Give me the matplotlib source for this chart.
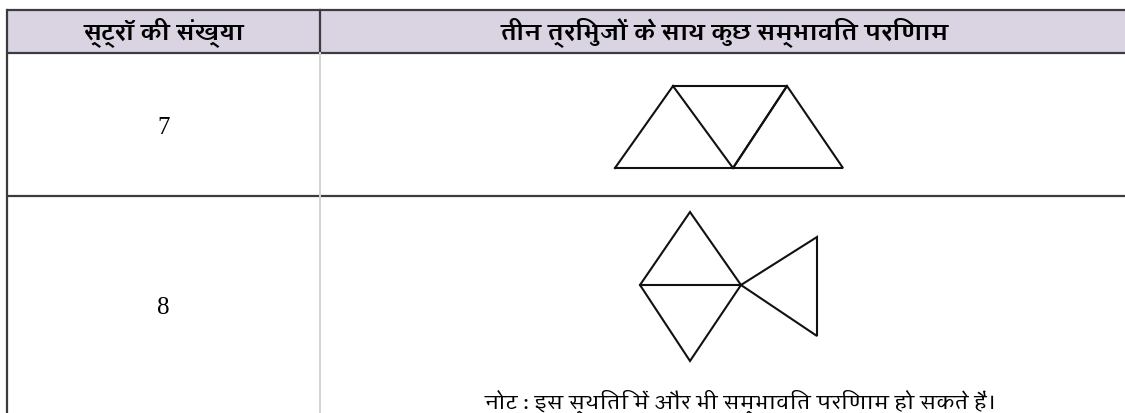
import matplotlib
matplotlib.use("Agg")
import matplotlib.pyplot as plt
from matplotlib import font_manager
from matplotlib.font_manager import FontProperties
from matplotlib.ft2font import FT2Font
from matplotlib.patches import Rectangle

# ---- table content ----
headers = ["स्ट्रॉ की संख्या", "तीन त्रिभुजों के साथ कुछ सम्भावित परिणाम"]
straw_counts = ["7", "8"]
note_text = "नोट : इस स्थिति में और भी सम्भावित परिणाम हो सकते हैं।"

# straw shapes, vertex paths (x right, y up) relative to the shape's lower-left
shape_7 = [
    [(0, 0), (58, 82), (118, 0), (0, 0)],
    [(58, 82), (172, 82), (118, 0)],
    [(118, 0), (228, 0), (172, 82), (118, 0)],
]
shape_8 = [
    [(0, 76), (101, 76), (50, 149), (0, 76), (50, 0), (101, 76)],
    [(101, 76), (177, 25), (177, 124), (101, 76)],
]

# ---- layout (pixels) ----
W, H = 1125, 413
LEFT, MID, RIGHT = 7, 320, 1140
ROW_Y = [10, 53, 196, 430]
HEADER_BG = "#d9d3e2"
DARK = "#3c3c3c"
SHAPE_ORIGIN = [(615, 168), (640, 361)]


def deva_fonts():
    """installed font files that have Devanagari glyphs"""
    found = []
    for f in font_manager.fontManager.ttflist:
        try:
            if FT2Font(f.fname).get_char_index(0x0915):
                found.append(f)
        except Exception:
            pass
    return found


def weight_num(f):
    if isinstance(f.weight, int):
        return f.weight
    return 700 if "bold" in str(f.weight) else 400


cands = deva_fonts()
if cands:
    head = max(cands, key=lambda f: (weight_num(f) >= 600, "Serif" not in f.name,
                                     -abs(weight_num(f) - 700)))
    body = min(cands, key=lambda f: (f.name != head.name, abs(weight_num(f) - 400),
                                     f.style != "normal"))
    fp_head = FontProperties(fname=head.fname)
    fp_body = FontProperties(fname=body.fname)
else:
    fp_head = FontProperties(family="DejaVu Sans", weight="bold")
    fp_body = FontProperties(family="DejaVu Sans")

fig = plt.figure(figsize=(W / 100, H / 100), dpi=100)
ax = fig.add_axes([0, 0, 1, 1])
ax.set_xlim(0, W)
ax.set_ylim(H, 0)
ax.axis("off")

# header band
ax.add_patch(Rectangle((LEFT, ROW_Y[0]), RIGHT - LEFT, ROW_Y[1] - ROW_Y[0],
                       facecolor=HEADER_BG, edgecolor="none"))

# horizontal rules
for y in ROW_Y[:3]:
    ax.plot([LEFT, RIGHT], [y, y], color=DARK, lw=1.6, solid_capstyle="butt")
# outer left border + header divider
ax.plot([LEFT, LEFT], [ROW_Y[0], ROW_Y[3]], color=DARK, lw=1.6)
ax.plot([MID, MID], [ROW_Y[0], ROW_Y[1]], color=DARK, lw=1.6)
ax.plot([MID, MID], [ROW_Y[1], ROW_Y[3]], color="#d4d4d4", lw=1.4)

# header text
col_centers = [(LEFT + MID) / 2, (MID + RIGHT) / 2 - 5]
for cx, h in zip(col_centers, headers):
    t = ax.text(cx, (ROW_Y[0] + ROW_Y[1]) / 2 + 1, h, ha="center", va="center",
                color="black", fontproperties=fp_head)
    t.set_fontsize(17)

# straw counts
count_y = [128, 308]
for cy, n in zip(count_y, straw_counts):
    ax.text(col_centers[0], cy, n, ha="center", va="center",
            fontsize=18, family="Liberation Serif", color="black")

# shapes
for shape, (ox, oy) in zip([shape_7, shape_8], SHAPE_ORIGIN):
    for path in shape:
        xs = [ox + p[0] for p in path]
        ys = [oy - p[1] for p in path]
        ax.plot(xs, ys, color="#111111", lw=1.5, solid_joinstyle="miter")

t = ax.text(740, 402, note_text, ha="center", va="center", color="black",
            fontproperties=fp_body)
t.set_fontsize(15)

fig.savefig("out.png", dpi=100)
